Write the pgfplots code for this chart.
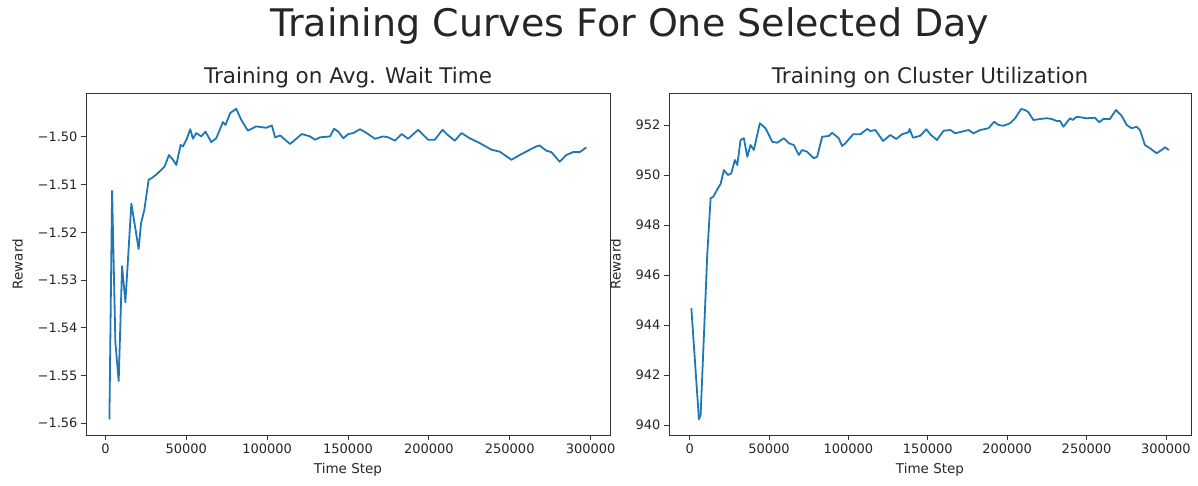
\documentclass[border=0pt]{standalone}
\usepackage{pgfplots}
\pgfplotsset{compat=1.18}
\usepackage{fontspec}
\setmainfont{DejaVu Sans}
\definecolor{mplblue}{HTML}{1F77B4}
\definecolor{txt}{HTML}{262626}

\pgfplotsset{
  panel/.style={
    scale only axis, height=342pt,
    axis line style={black!80, line width=0.8pt},
    tick style={black!80, line width=0.8pt},
    tick align=outside, major tick length=5pt,
    tick pos=left,
    tick label style={font=\fontsize{13}{15}\selectfont, txt},
    label style={font=\fontsize{13.5}{16}\selectfont, txt},
    title style={font=\fontsize{21.5}{25}\selectfont, txt, at={(0.5,1)}, anchor=base, yshift=3pt},
    xtick={0,50000,100000,150000,200000,250000,300000},
    xticklabels={0,50000,100000,150000,200000,250000,300000},
    scaled ticks=false,
    xlabel={Time Step}, ylabel={Reward},
    xlabel shift=3pt, ylabel shift=8pt,
    /pgf/number format/assume math mode=true,
  },
  curve/.style={mplblue, line width=1.8pt, line join=round},
}

\begin{document}
\begin{tikzpicture}
\path[use as bounding box] (0,0) rectangle (1198pt,485pt);

\node[font=\fontsize{38}{44}\selectfont, txt, anchor=base] at (630pt,448pt)
  {Training Curves For One Selected Day};

% left: reward in units of 1e8
\begin{axis}[panel, at={(86pt,50pt)}, anchor=south west, width=524pt,
  title={Training on Avg. Wait Time},
  xmin=-12000, xmax=312000, ymin=-1.5625, ymax=-1.4908,
  ytick={-1.56,-1.55,-1.54,-1.53,-1.52,-1.51,-1.50},
  yticklabels={−1.56,−1.55,−1.54,−1.53,−1.52,−1.51,−1.50},
]
\addplot[curve] coordinates {
(2469,-1.5592) (4136,-1.5113) (6173,-1.5431) (8210,-1.5512) (10309,-1.5271)
(12346,-1.5347) (16050,-1.5140) (20556,-1.5235) (22038,-1.5181) (24075,-1.5153)
(26729,-1.5090) (28828,-1.5086) (31482,-1.5079) (34569,-1.5069) (36606,-1.5062)
(39322,-1.5038) (41791,-1.5048) (43828,-1.5059) (46482,-1.5017) (47964,-1.5020)
(50433,-1.5003) (52471,-1.4984) (54137,-1.5004) (56174,-1.4992) (59261,-1.4999)
(61915,-1.4989) (65434,-1.5011) (68520,-1.5003) (72656,-1.4969) (74261,-1.4975)
(77163,-1.4950) (80866,-1.4941) (83953,-1.4964) (88089,-1.4987) (93212,-1.4978)
(99385,-1.4981) (102904,-1.4976) (104941,-1.5001) (108028,-1.4997) (114201,-1.5015)
(121423,-1.4994) (126547,-1.4999) (129633,-1.5006) (132720,-1.5001) (138893,-1.4999)
(141362,-1.4983) (144016,-1.4989) (147103,-1.5003) (150189,-1.4994) (153276,-1.4992)
(157412,-1.4984) (161548,-1.4992) (166671,-1.5004) (171795,-1.4999) (174881,-1.5001)
(179017,-1.5008) (183153,-1.4994) (187227,-1.5004) (193400,-1.4985) (199573,-1.5006)
(203709,-1.5006) (208462,-1.4985) (210931,-1.4994) (216055,-1.5008) (220191,-1.4992)
(225315,-1.5003) (231488,-1.5013) (238710,-1.5027) (243834,-1.5031) (251056,-1.5048)
(256180,-1.5038) (262353,-1.5027) (266489,-1.5020) (268526,-1.5018) (272662,-1.5029)
(275749,-1.5032) (280872,-1.5052) (285008,-1.5038) (289083,-1.5032) (293219,-1.5032)
(297355,-1.5022)
};
\node[anchor=base west, font=\fontsize{13}{15}\selectfont, txt, yshift=1.5pt]
  at (rel axis cs:0,1) {1e8};
\end{axis}

\begin{axis}[panel, at={(669pt,50pt)}, anchor=south west, width=522pt,
  title={Training on Cluster Utilization},
  xmin=-13000, xmax=315800, ymin=939.6, ymax=953.28,
  ytick={940,942,944,946,948,950,952},
]
\addplot[curve] coordinates {
(1069,944.67) (5849,940.23) (6918,940.40) (11131,946.87) (13207,949.07)
(14905,949.13) (17798,949.47) (19496,949.64) (21571,950.20) (24087,950.00)
(26225,950.07) (28489,950.60) (29999,950.40) (32074,951.40) (34149,951.47)
(36288,950.73) (38363,951.20) (40438,951.00) (44212,952.07) (47796,951.87)
(52010,951.33) (55154,951.29) (59305,951.47) (62450,951.27) (65594,951.20)
(68739,950.80) (70877,951.00) (74021,950.93) (78172,950.67) (80310,950.73)
(83455,951.53) (87606,951.56) (89744,951.69) (93895,951.47) (96033,951.16)
(98108,951.27) (102951,951.63) (107542,951.63) (111756,951.84) (113831,951.76)
(116975,951.80) (121818,951.36) (126409,951.60) (130182,951.44) (133767,951.63)
(137918,951.71) (138547,951.84) (140685,951.49) (145276,951.57) (149049,951.83)
(152005,951.60) (155779,951.40) (159930,951.77) (164143,951.80) (167287,951.67)
(175652,951.80) (178796,951.67) (183010,951.80) (188230,951.87) (191815,952.13)
(194519,952.00) (197664,951.97) (201877,952.07) (205021,952.27) (208795,952.64)
(211310,952.60) (213386,952.51) (216530,952.20) (220744,952.24) (224957,952.27)
(228102,952.24) (231246,952.16) (233322,952.16) (235397,951.93) (239611,952.27)
(241309,952.20) (243824,952.33) (250113,952.27) (255333,952.29) (258037,952.11)
(260553,952.24) (264767,952.24) (268540,952.60) (272125,952.37) (275269,952.00)
(278414,951.87) (281558,951.93) (283634,951.80) (286778,951.20) (289923,951.07)
(294136,950.87) (297281,951.00) (299356,951.11) (301872,951.00)
};
\end{axis}
\end{tikzpicture}
\end{document}
